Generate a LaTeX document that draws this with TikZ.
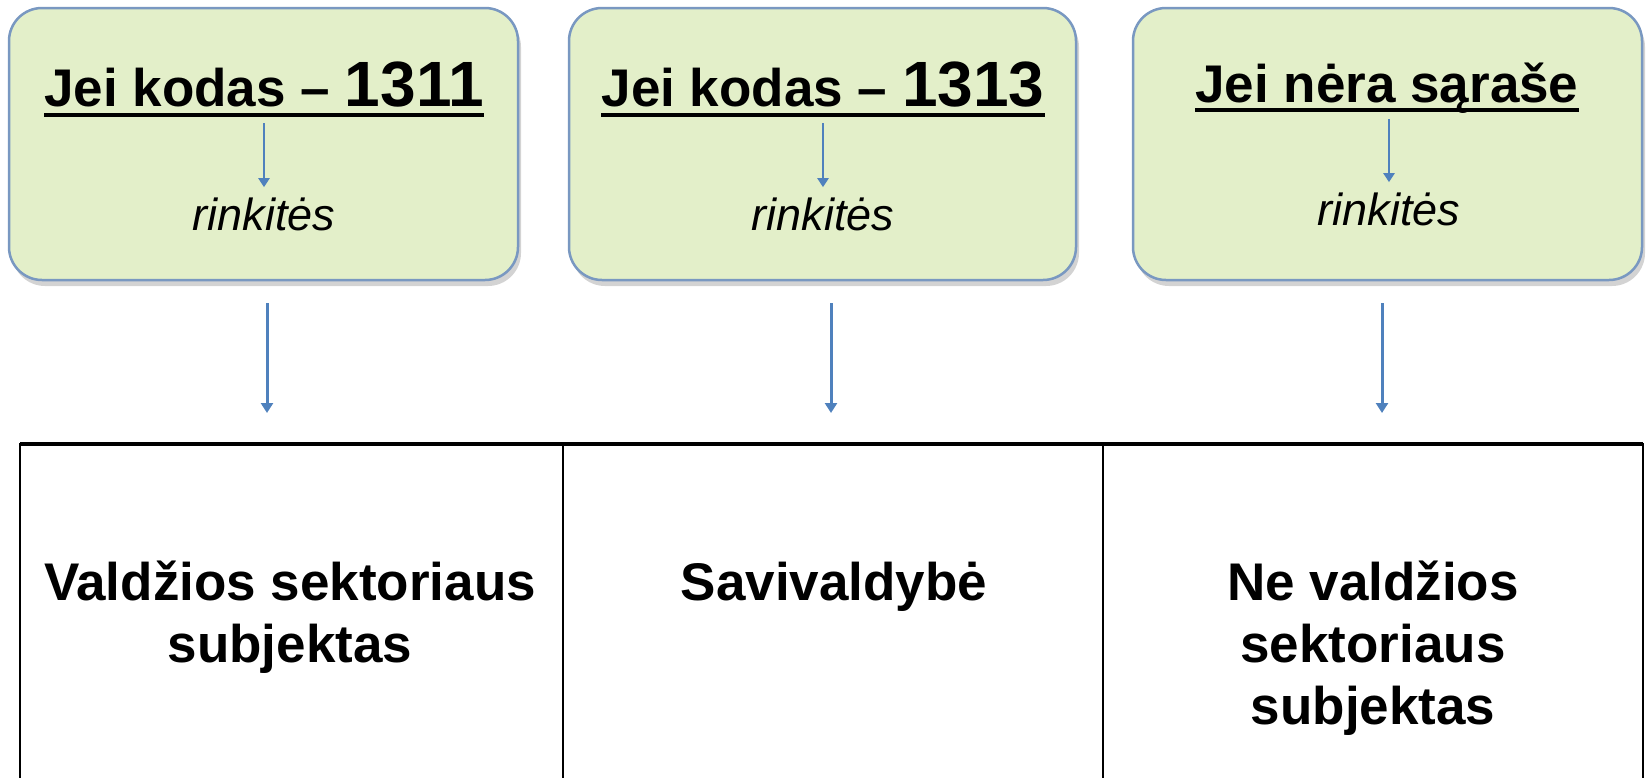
\documentclass[tikz,border=0pt]{standalone}
\usepackage{fontspec}
\setmainfont{Liberation Sans}
\usetikzlibrary{shadows,arrows.meta}

\definecolor{boxgreen}{RGB}{227,239,201}
\definecolor{boxedge}{RGB}{121,152,193}
\definecolor{arrowblue}{RGB}{79,129,189}

\tikzset{
  greenbox/.style={draw=boxedge, line width=2.5pt, fill=boxgreen,
    rounded corners=33pt, minimum height=272pt,
    drop shadow={shadow xshift=3pt, shadow yshift=-6pt, opacity=0.35}},
  heading/.style={font=\bfseries\fontsize{53}{60}\selectfont,
    inner sep=0pt, anchor=base, text depth=0pt},
  choice/.style={font=\itshape\fontsize{45}{52}\selectfont,
    inner sep=0pt, anchor=base},
  cell/.style={draw=black, line width=2.5pt, minimum height=360pt,
    anchor=north west, inner sep=0pt, outer sep=0pt},
  celltext/.style={font=\bfseries\fontsize{53}{62}\selectfont,
    align=center, inner sep=0pt, anchor=base},
  smallarr/.style={-{Triangle[length=9pt,width=11pt]}, arrowblue,
    line width=2.5pt, shorten <=17pt, shorten >=10pt},
  bigarr/.style={-{Triangle[length=10pt,width=12pt]}, arrowblue,
    line width=3pt, shorten <=22pt, shorten >=31pt},
  uline/.style={line width=4pt, black},
}

\begin{document}
\begin{tikzpicture}[x=1pt, y=-1pt]
  \clip (0,0) rectangle (1648,777);

  % green boxes
  \node[greenbox, minimum width=509pt] (box1) at (263.5,144) {};
  \node[greenbox, minimum width=507pt] (box2) at (822.5,144) {};
  \node[greenbox, minimum width=509pt] (box3) at (1387.5,144) {};

  \node[heading] (h1) at (264,106) {Jei kodas – {\fontsize{64}{64}\selectfont 1311}};
  \node[heading] (h2) at (823,106) {Jei kodas – {\fontsize{64}{64}\selectfont 1313}};
  \node[heading] (h3) at (1387,102) {Jei nėra sąraše};

  \draw[uline] ([yshift=-9pt]h1.base west) -- ([yshift=-9pt]h1.base east);
  \draw[uline] ([yshift=-9pt]h2.base west) -- ([yshift=-9pt]h2.base east);
  \draw[uline] ([yshift=-8pt]h3.base west) -- ([yshift=-8pt]h3.base east);

  \node[choice] (r1) at (264,230) {rinkitės};
  \node[choice] (r2) at (823,230) {rinkitės};
  \node[choice] (r3) at (1389,225) {rinkitės};

  \draw[smallarr] (r1.north |- h1.south) -- (r1.north);
  \draw[smallarr] (r2.north |- h2.south) -- (r2.north);
  \draw[smallarr] (r3.north |- h3.south) -- (r3.north);

  % table
  \node[cell, minimum width=543pt] (cell1) at (20,444) {};
  \node[cell, minimum width=540pt] (cell2) at (cell1.north east) {};
  \node[cell, minimum width=540pt] (cell3) at (cell2.north east) {};
  \draw[line width=4pt] (cell1.north west) -- (cell3.north east);

  % base is the last line
  \node[celltext] (t1) at (290,662) {Valdžios sektoriaus\\subjektas};
  \node[celltext] (t2) at (834,600) {Savivaldybė};
  \node[celltext] (t3) at (1373,724) {Ne valdžios\\sektoriaus\\subjektas};

  \draw[bigarr] ([xshift=3.5pt]box1.south) -- ([xshift=3.5pt]box1.south |- cell1.north);
  \draw[bigarr] ([xshift=8.5pt]box2.south) -- ([xshift=8.5pt]box2.south |- cell2.north);
  \draw[bigarr] ([xshift=-5.5pt]box3.south) -- ([xshift=-5.5pt]box3.south |- cell3.north);
\end{tikzpicture}
\end{document}
